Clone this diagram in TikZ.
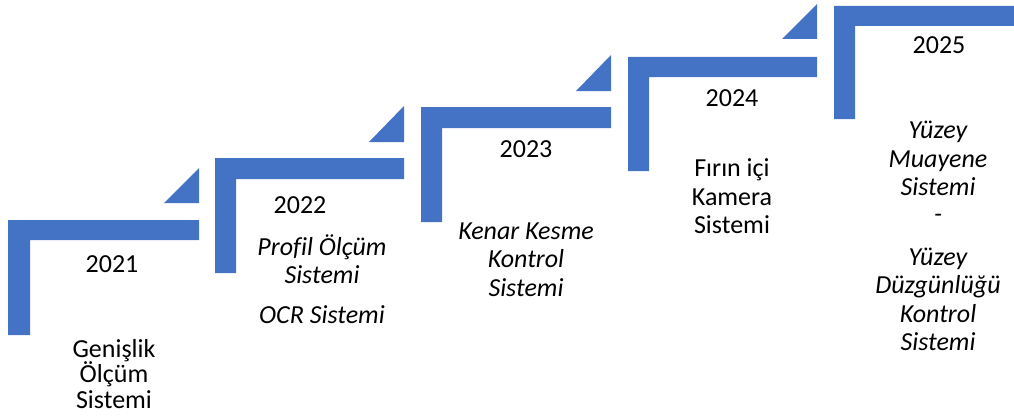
\documentclass[tikz,border=0pt]{standalone}
\usepackage{fontspec}
\setmainfont{Carlito}[Ligatures=NoCommon]
\definecolor{stepblue}{HTML}{4472C4}
\begin{document}
\begin{tikzpicture}[x=1pt,y=-1pt,
  stepfill/.style={fill=stepblue,draw=none},
  lbl/.style={anchor=base,inner sep=0pt,font=\fontsize{26}{28}\selectfont},
  ilbl/.style={lbl,font=\fontsize{26}{28}\selectfont\itshape}]
\useasboundingbox (0,0) rectangle (1014,420);
% steps: l, r, top, barbottom, vertright, bottom
\foreach \l/\r/\t/\bb/\vr/\b in {8/199/220/240/30/335, 215/404/158/179/236/273, 421/611/107/128/442/222, 628/817/57/77/649/171, 834/1014/6/26/855/119}{
  \fill[stepfill] (\l,\t) -- (\r,\t) -- (\r,\bb) -- (\vr,\bb) -- (\vr,\b) -- (\l,\b) -- cycle;
}
% triangles: right x, top y, bottom y
\foreach \r/\tt/\tb in {199/168/203, 404/106/142, 611/55/91, 817/4/39}{
  \fill[stepfill] (\r,\tt) -- (\r,\tb) -- (\r-35,\tb) -- cycle;
}
% 2021
\node[lbl] (y1) at (112,272) {2021};
\node[lbl] (a1) at (114,357) {Genişlik};
\node[lbl] (a2) at (114,382) {Ölçüm};
\node[lbl] (a3) at (114,408) {Sistemi};
% 2022
\node[lbl] (y2) at (300,213) {2022};
\node[ilbl] (b1) at (322,255) {Profil Ölçüm};
\node[ilbl] (b2) at (322,283) {Sistemi};
\node[ilbl] (b3) at (322,323) {OCR Sistemi};
% 2023
\node[lbl] (y3) at (526,157) {2023};
\node[ilbl] (c1) at (526,239) {Kenar Kesme};
\node[ilbl] (c2) at (526,267) {Kontrol};
\node[ilbl] (c3) at (526,296) {Sistemi};
% 2024
\node[lbl] (y4) at (732,106) {2024};
\node[lbl] (d1) at (732,176) {Fırın içi};
\node[lbl] (d2) at (732,205) {Kamera};
\node[lbl] (d3) at (732,233) {Sistemi};
% 2025
\node[lbl] (y5) at (939,54) {2025};
\node[ilbl] (e1) at (938,138) {Yüzey};
\node[ilbl] (e2) at (938,167) {Muayene};
\node[ilbl] (e3) at (938,195) {Sistemi};
\node[ilbl] (e4) at (938,222) {-};
\node[ilbl] (e5) at (938,265) {Yüzey};
\node[ilbl] (e6) at (938,293) {Düzgünlüğü};
\node[ilbl] (e7) at (938,322) {Kontrol};
\node[ilbl] (e8) at (938,350) {Sistemi};
\end{tikzpicture}
\end{document}
